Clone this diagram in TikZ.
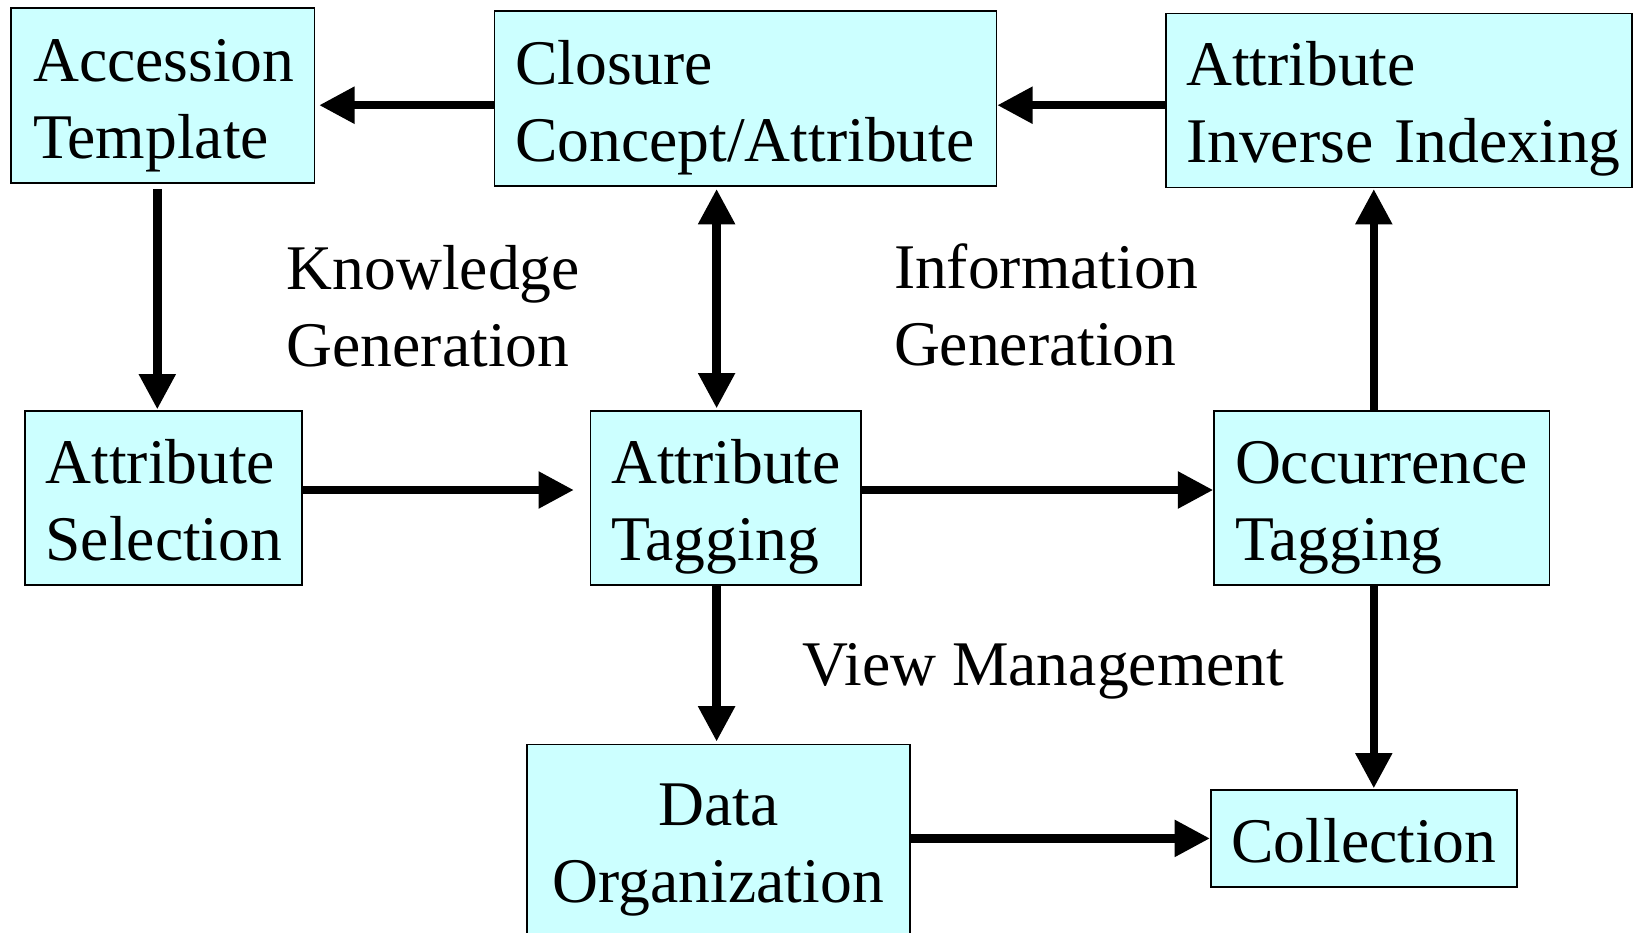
\documentclass[tikz,border=0pt]{standalone}
\usepackage{fontspec}
\setmainfont{Liberation Serif}
\usetikzlibrary{arrows.meta,calc}
\definecolor{boxfill}{RGB}{204,255,255}
% fixed-height strut for the first line and fixed-depth strut for the last line
\newcommand{\topstrut}{\rule{0pt}{31pt}}
\newcommand{\botstrut}{\rule[-7pt]{0pt}{7pt}}
\hbadness=10000 \hfuzz=20pt
\begin{document}
\begin{tikzpicture}[x=0.5pt,y=-0.5pt,
  txt/.style={font=\fontsize{31.8}{38.5}\selectfont},
  box/.style={txt, draw=black, line width=0.75pt, fill=boxfill,
    anchor=north west, inner ysep=0pt, align=left},
  lbl/.style={txt, anchor=west, align=left, inner sep=0pt},
  flow/.style={line width=4.2pt, -{Triangle[length=17.7pt,width=17.5pt]}},
  both/.style={line width=4.2pt, {Triangle[length=17.7pt,width=17.5pt]}-{Triangle[length=17.7pt,width=17.5pt]}},
]
\useasboundingbox (0,0) rectangle (1633,932);

% process boxes
\node[box, inner xsep=11pt,   text width=129.6pt, minimum height=87.5pt] (acc) at (10.4,7.3)
  {\topstrut\mbox{Accession}\\\mbox{Template}\botstrut};
\node[box, inner xsep=10.4pt, text width=230.2pt, minimum height=87.5pt] (clo) at (493.7,10.4)
  {\topstrut\mbox{Closure}\\\mbox{Concept/Attribute}\botstrut};
\node[box, inner xsep=10pt,   text width=212.8pt, minimum height=87pt]   (inv) at (1165.4,12.5)
  {\topstrut\mbox{Attribute}\\\mbox{Inverse Indexing}\botstrut};
\node[box, inner xsep=10.4pt, text width=117.7pt, minimum height=87pt]   (sel) at (24,410.4)
  {\topstrut\mbox{Attribute}\\\mbox{Selection}\botstrut};
\node[box, inner xsep=10.5pt, text width=114.4pt, minimum height=87pt]   (tag) at (589.5,410.4)
  {\topstrut\mbox{Attribute}\\\mbox{Tagging}\botstrut};
\node[box, inner xsep=10.5pt, text width=146.7pt, minimum height=87pt]   (occ) at (1213.3,410.4)
  {\topstrut\mbox{Occurrence}\\\mbox{Tagging}\botstrut};
\node[box, align=center, inner xsep=5pt, text width=181.6pt, minimum height=96pt]   (dat) at (526,743.6)
  {\topstrut Data\\Organization\botstrut};
\node[box, align=center, inner xsep=5pt, text width=143.2pt, minimum height=48.5pt] (col) at (1210,789.4)
  {\topstrut Collection\botstrut};

% free labels
\node[lbl] (kn)   at (286.4,306.7) {Knowledge\\Generation};
\node[lbl] (info) at (893.6,305.2) {Information\\Generation};
\node[lbl] (view) at (802,671)     {View Management};

% connector lanes
\coordinate (yTop) at (0,105.2);
\coordinate (yMid) at (0,490);
\coordinate (yLow) at (0,838.4);
\coordinate (xA)   at (157.3,0);
\coordinate (xB)   at (716.6,0);
\coordinate (xC)   at (1373.8,0);

% connectors
\draw[flow, shorten >=2pt] (clo.west |- yTop) -- (acc.east |- yTop);
\draw[flow] (inv.west |- yTop) -- (clo.east |- yTop);
\draw[flow, shorten <=2.5pt, shorten >=0.5pt] (acc.south -| xA) -- (sel.north -| xA);
\draw[both, shorten <=1pt, shorten >=1pt] (clo.south -| xB) -- (tag.north -| xB);
\draw[flow, shorten >=7.8pt] (sel.east |- yMid) -- (tag.west |- yMid);
\draw[flow] (tag.east |- yMid) -- (occ.west |- yMid);
\draw[flow, shorten >=0.5pt] (occ.north -| xC) -- (inv.south -| xC);
\draw[flow, shorten >=1pt] (tag.south -| xB) -- (dat.north -| xB);
\draw[flow, shorten >=0.5pt] (occ.south -| xC) -- (col.north -| xC);
\draw[flow] (dat.east |- yLow) -- (col.west |- yLow);
\end{tikzpicture}
\end{document}
